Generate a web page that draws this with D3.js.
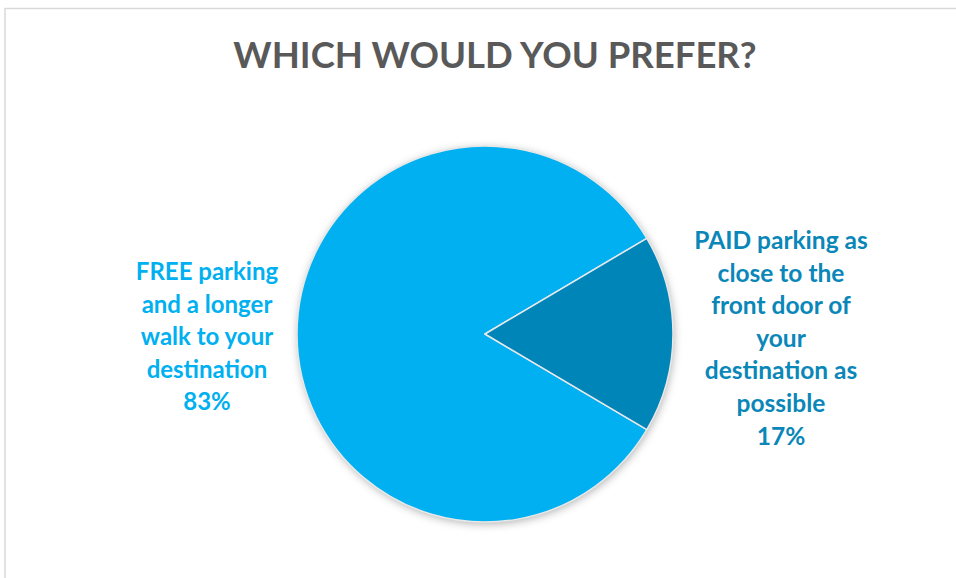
<!DOCTYPE html>
<html>
<head>
<meta charset="utf-8">
<script src="https://cdn.jsdelivr.net/npm/d3@7"></script>
<style>
  html, body { margin: 0; padding: 0; background: #fff; }
  svg { display: block; }
</style>
</head>
<body>
<svg id="chart" width="956" height="578"></svg>
<script>
// Survey answers and their shares
const categories = ["FREE", "PAID"];
const values = [83, 17];
const labelLines = [
  ["FREE parking", "and a longer", "walk to your", "destination"],
  ["PAID parking as", "close to the", "front door of", "your", "destination as", "possible"]
];
const colors = ["#00B0F0", "#0085B9"];
const labelColors = ["#00B0F0", "#0A87B8"];
const title = "WHICH WOULD YOU PREFER?";

const W = 956, H = 578;
const svg = d3.select("#chart");
const font = "Lato, 'Open Sans', sans-serif";

// Chart area frame
svg.append("rect")
  .attr("x", 5).attr("y", 8.5)
  .attr("width", W + 10).attr("height", H + 10)
  .attr("fill", "#fff")
  .attr("stroke", "#d9d9d9").attr("stroke-width", 1.5);

svg.append("text")
  .attr("x", 495).attr("y", 68)
  .attr("text-anchor", "middle")
  .attr("font-family", font)
  .attr("font-weight", 700)
  .attr("font-size", 36.5)
  .attr("fill", "#595959")
  .text(title);

const defs = svg.append("defs");
const shadow = defs.append("filter").attr("id", "pieShadow")
  .attr("x", "-20%").attr("y", "-20%").attr("width", "140%").attr("height", "140%");
shadow.append("feDropShadow")
  .attr("dx", 1).attr("dy", 2).attr("stdDeviation", 4)
  .attr("flood-color", "#000").attr("flood-opacity", 0.3);

const cx = 485, cy = 334, r = 188;
// Rotate so the smaller slice sits centred on the right side
const rot = Math.PI / 2 + (values[1] / d3.sum(values)) * Math.PI;
const pie = d3.pie().sort(null).value(d => d)
  .startAngle(rot).endAngle(rot + 2 * Math.PI);
const arc = d3.arc().innerRadius(0).outerRadius(r);
const arcs = pie(values);

const g = svg.append("g").attr("transform", `translate(${cx},${cy})`);
g.append("circle").attr("r", r).attr("fill", colors[0]).attr("filter", "url(#pieShadow)");
g.selectAll("path.slice")
  .data(arcs)
  .join("path")
  .attr("class", "slice")
  .attr("d", arc)
  .attr("fill", (d, i) => colors[i])
  .attr("stroke", "#e8e8e8")
  .attr("stroke-width", 1.5)
  .attr("stroke-linejoin", "round");

// Category labels with percentages
const labelPos = [
  { x: 207, y: 280 },
  { x: 781, y: 249 }
];
const labelSize = [24, 24.5];
const lineH = 32.6;
labelLines.forEach((lines, i) => {
  const t = svg.append("text")
    .attr("text-anchor", "middle")
    .attr("font-family", font)
    .attr("font-weight", 700)
    .attr("font-size", labelSize[i])
    .attr("fill", labelColors[i]);
  lines.concat([values[i] + "%"]).forEach((s, k) => {
    t.append("tspan")
      .attr("x", labelPos[i].x)
      .attr("y", labelPos[i].y + k * lineH)
      .text(s);
  });
});
</script>
</body>
</html>
